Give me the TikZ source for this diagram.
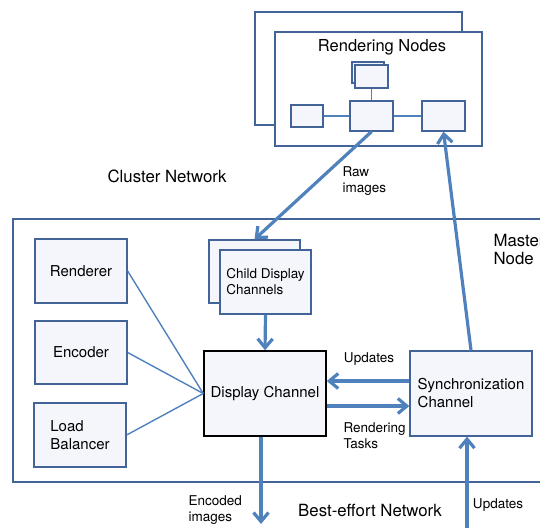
\documentclass[tikz,border=0pt]{standalone}
\usepackage{fontspec}
\setmainfont{TeX Gyre Heros}
\usetikzlibrary{arrows.meta}

\definecolor{linkblue}{RGB}{79,129,189}
\definecolor{edgeblue}{RGB}{66,100,152}
\definecolor{boxfill}{RGB}{244,246,251}

\begin{document}
\begin{tikzpicture}[x=1pt, y=-1pt, >={Straight Barb[length=9pt,width=15pt]},
  font=\fontsize{15}{18}\selectfont,
  box/.style={draw=edgeblue, fill=boxfill, line width=1.3pt, inner sep=0pt},
  frame/.style={draw=edgeblue, fill=white, line width=1.3pt},
  link/.style={draw=linkblue, line width=1.4pt},
  flow/.style={draw=linkblue, line width=3.2pt, ->},
  small/.style={font=\fontsize{13.5}{16}\selectfont},
  net/.style={font=\fontsize{16.8}{18}\selectfont}]

\useasboundingbox (0,0) rectangle (540,527);
\clip (0,0) rectangle (540,527);

% RENDERING NODES

% Stacked frames
\node[frame, minimum width=207, minimum height=113] (rback) at (358.5,68.5) {};
\node[frame, minimum width=207, minimum height=114] (rfront) at (378.5,89) {};
\node[font=\fontsize{16.5}{18}\selectfont] (rtitle) at (382,47) {Rendering Nodes};

% Small boxes inside
\node[box, minimum width=32, minimum height=21] (sback) at (368,72.5) {};
\node[box, minimum width=33, minimum height=23] (sfront) at (371.5,76.5) {};
\node[box, minimum width=32, minimum height=22] (lbox) at (307,116) {};
\node[box, minimum width=43, minimum height=30] (mbox) at (371.5,116) {};
\node[box, minimum width=43, minimum height=30] (rbox) at (443.5,116) {};

\draw[link] (sfront) -- (mbox);
\draw[link] (lbox) -- (mbox);
\draw[link] (mbox) -- (rbox);

% Network label
\node[net] (cluster) at (167,176) {Cluster Network};

% MASTER NODE

% Outer frame
\draw[draw=edgeblue, line width=1.3pt] (13,219) rectangle (560,482);
\node[net, anchor=west, align=left] (master) at (490,249) {Master\\Node};

% Left column
\node[box, minimum width=92, minimum height=64] (ren) at (81,271) {Renderer};
\node[box, minimum width=92, minimum height=63] (enc) at (81,352.5) {Encoder};
\node[box, minimum width=92, minimum height=64, align=left] (lb) at (80,435) {Load\\Balancer};

% Child display channels
\node[box, minimum width=91, minimum height=63] (cback) at (254.5,271.5) {};
\node[box, minimum width=91, minimum height=64, align=left, small] (cfront) at (265.5,282) {Child Display\\Channels};

% Display and synchronization channels
\node[box, draw=black, line width=1.5pt, minimum width=122, minimum height=85] (disp) at (265,393.5) {Display Channel};
\node[box, minimum width=122, minimum height=85, align=left] (sync) at (471,393.5) {Synchronization\\Channel};

% Thin links
\draw[link] (ren.east) -- (disp.west);
\draw[link] (enc.east) -- (disp.west);
\draw[link] (lb.east) -- (disp.west);

% Flows
\draw[flow] (mbox.south) -- (cback.north);
\node[small, anchor=west, align=left] (raw) at (339,181.5) {Raw\\images};
\draw[flow] (sync.north) -- (rbox.south);
\draw[flow] (cfront.south) -- (disp.north);

\draw[flow] ([yshift=12.5pt]sync.west) -- ([yshift=12.5pt]disp.east);
\node[small] (upd) at (369,359) {Updates};
\draw[flow] ([yshift=-12.5pt]disp.east) -- ([yshift=-12.5pt]sync.west);
\node[small, anchor=west, align=left] (tasks) at (340,435.5) {Rendering\\Tasks};

% BEST-EFFORT NETWORK

\coordinate (encout) at (261,524);
\coordinate (updin) at (467,540);
\draw[flow] ([xshift=-4pt]disp.south) -- (encout);
\draw[flow] (updin) -- ([xshift=-4pt]sync.south);
\node[small, anchor=west, align=left] (encimg) at (185,510) {Encoded\\images};
\node[net] (best) at (370,510) {Best-effort Network};
\node[small] (updnet) at (498,505) {Updates};

\end{tikzpicture}
\end{document}
